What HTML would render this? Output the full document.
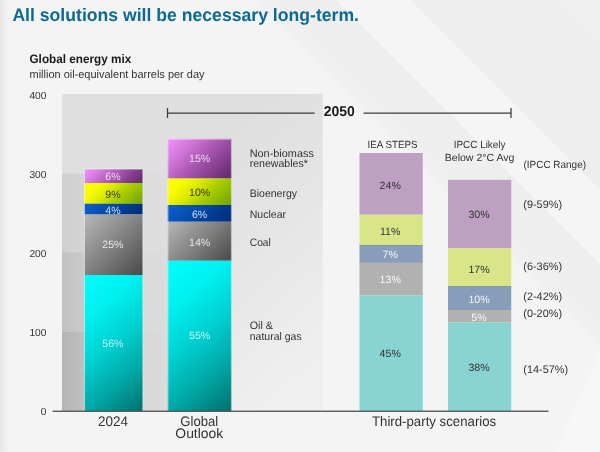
<!DOCTYPE html>
<html><head><meta charset="utf-8"><title>All solutions will be necessary long-term.</title>
<style>
html,body{margin:0;padding:0;background:#f4f4f4;}
body{width:600px;height:452px;overflow:hidden;}
svg{display:block;font-family:"Liberation Sans",sans-serif;text-rendering:geometricPrecision;}
</style></head><body>
<svg width="600" height="452" viewBox="0 0 600 452">
<defs>
<linearGradient id="bgL" x1="0" y1="0" x2="1" y2="0"><stop offset="0" stop-color="#e6e6e6"/><stop offset="1" stop-color="#f4f4f4"/></linearGradient>
<linearGradient id="plotR" x1="0" y1="0" x2="0.25" y2="1"><stop offset="0" stop-color="#dfdfdf"/><stop offset="0.12" stop-color="#dfdfdf"/><stop offset="0.5" stop-color="#e5e5e5"/><stop offset="1" stop-color="#efefef"/></linearGradient>
<linearGradient id="band" x1="0" y1="0" x2="1" y2="0"><stop offset="0.0" stop-color="#000" stop-opacity="0.068"/><stop offset="0.129" stop-color="#000" stop-opacity="0.05"/><stop offset="0.476" stop-color="#000" stop-opacity="0.012"/><stop offset="0.618" stop-color="#000" stop-opacity="0.006"/><stop offset="1.0" stop-color="#000" stop-opacity="0"/></linearGradient>
<linearGradient id="diag" gradientUnits="userSpaceOnUse" x1="240" y1="0" x2="420" y2="-180"><stop offset="0.0222" stop-color="#f4f4f4"/><stop offset="0.0611" stop-color="#f0f0f0"/><stop offset="0.1" stop-color="#efefef"/><stop offset="0.2653" stop-color="#eeeeee"/><stop offset="0.2681" stop-color="#f5f5f5"/><stop offset="0.4694" stop-color="#f5f5f5"/><stop offset="0.475" stop-color="#eeeeee"/><stop offset="0.875" stop-color="#eeeeee"/><stop offset="0.8806" stop-color="#f0f0f0"/><stop offset="1.0" stop-color="#f0f0f0"/></linearGradient>
</defs>
<rect width="600" height="452" fill="#f4f4f4"/>
<rect width="600" height="452" fill="url(#diag)"/>
<rect x="0" y="0" width="10" height="452" fill="url(#bgL)"/>
<polygon points="600,352 600,452 556,452" fill="#f7f7f7"/>

<rect x="62" y="94" width="260.5" height="317" fill="#dfdfdf"/>
<rect x="231" y="94" width="91.5" height="317" fill="url(#plotR)"/>
<rect x="62" y="173.5" width="170" height="237.5" fill="url(#band)"/>
<rect x="62" y="252.5" width="170" height="158.5" fill="url(#band)"/>
<rect x="62" y="332" width="170" height="79" fill="url(#band)"/>
<linearGradient id="g1" gradientUnits="userSpaceOnUse" x1="84.25" y1="169" x2="120.62" y2="205.38"><stop offset="0" stop-color="#f490ff"/><stop offset="0.25" stop-color="#d478dc"/><stop offset="0.5" stop-color="#ac58b4"/><stop offset="0.75" stop-color="#843e8c"/><stop offset="1" stop-color="#5e2868"/></linearGradient>
<rect x="84.25" y="169" width="58.75" height="14" fill="url(#g1)"/>
<linearGradient id="g2" gradientUnits="userSpaceOnUse" x1="84.25" y1="183" x2="124.0" y2="222.75"><stop offset="0" stop-color="#ffff00"/><stop offset="0.2" stop-color="#f8fc00"/><stop offset="0.4" stop-color="#dcea00"/><stop offset="0.6" stop-color="#acd000"/><stop offset="0.8" stop-color="#8aba00"/><stop offset="1" stop-color="#70a010"/></linearGradient>
<rect x="84.25" y="183" width="58.75" height="20.75" fill="url(#g2)"/>
<linearGradient id="g3" gradientUnits="userSpaceOnUse" x1="84.25" y1="203.75" x2="119.0" y2="238.5"><stop offset="0" stop-color="#0c62d0"/><stop offset="0.5" stop-color="#0446a2"/><stop offset="1" stop-color="#002a74"/></linearGradient>
<rect x="84.25" y="203.75" width="58.75" height="10.75" fill="url(#g3)"/>
<linearGradient id="g4" gradientUnits="userSpaceOnUse" x1="84.25" y1="214.5" x2="143.88" y2="274.12"><stop offset="0" stop-color="#b8b8b8"/><stop offset="0.5" stop-color="#828282"/><stop offset="1" stop-color="#484848"/></linearGradient>
<rect x="84.25" y="214.5" width="58.75" height="60.5" fill="url(#g4)"/>
<linearGradient id="g5" gradientUnits="userSpaceOnUse" x1="84.25" y1="275" x2="175.33" y2="384.59"><stop offset="0" stop-color="#00ffff"/><stop offset="0.25" stop-color="#00f0f0"/><stop offset="0.5" stop-color="#00d0d0"/><stop offset="0.75" stop-color="#00a6a4"/><stop offset="1" stop-color="#006e6c"/></linearGradient>
<rect x="84.25" y="275" width="58.75" height="136" fill="url(#g5)"/>
<linearGradient id="g6" gradientUnits="userSpaceOnUse" x1="167.5" y1="138.75" x2="219.5" y2="190.75"><stop offset="0" stop-color="#f490ff"/><stop offset="0.25" stop-color="#d478dc"/><stop offset="0.5" stop-color="#ac58b4"/><stop offset="0.75" stop-color="#843e8c"/><stop offset="1" stop-color="#5e2868"/></linearGradient>
<rect x="167.5" y="138.75" width="64.25" height="39.75" fill="url(#g6)"/>
<linearGradient id="g7" gradientUnits="userSpaceOnUse" x1="167.5" y1="178.5" x2="212.88" y2="223.88"><stop offset="0" stop-color="#ffff00"/><stop offset="0.2" stop-color="#f8fc00"/><stop offset="0.4" stop-color="#dcea00"/><stop offset="0.6" stop-color="#acd000"/><stop offset="0.8" stop-color="#8aba00"/><stop offset="1" stop-color="#70a010"/></linearGradient>
<rect x="167.5" y="178.5" width="64.25" height="26.5" fill="url(#g7)"/>
<linearGradient id="g8" gradientUnits="userSpaceOnUse" x1="167.5" y1="205" x2="208.0" y2="245.5"><stop offset="0" stop-color="#0c62d0"/><stop offset="0.5" stop-color="#0446a2"/><stop offset="1" stop-color="#002a74"/></linearGradient>
<rect x="167.5" y="205" width="64.25" height="16.75" fill="url(#g8)"/>
<linearGradient id="g9" gradientUnits="userSpaceOnUse" x1="167.5" y1="221.75" x2="219.12" y2="273.38"><stop offset="0" stop-color="#b8b8b8"/><stop offset="0.5" stop-color="#828282"/><stop offset="1" stop-color="#484848"/></linearGradient>
<rect x="167.5" y="221.75" width="64.25" height="39.0" fill="url(#g9)"/>
<linearGradient id="g10" gradientUnits="userSpaceOnUse" x1="167.5" y1="260.75" x2="267.86" y2="381.5"><stop offset="0" stop-color="#00ffff"/><stop offset="0.25" stop-color="#00f0f0"/><stop offset="0.5" stop-color="#00d0d0"/><stop offset="0.75" stop-color="#00a6a4"/><stop offset="1" stop-color="#006e6c"/></linearGradient>
<rect x="167.5" y="260.75" width="64.25" height="150.25" fill="url(#g10)"/>
<rect x="359.5" y="153" width="63.25" height="61.7" fill="#bda0c2"/>
<rect x="359.5" y="214.7" width="63.25" height="30.6" fill="#d8e687"/>
<rect x="359.5" y="245.3" width="63.25" height="17.6" fill="#889dba"/>
<rect x="359.5" y="262.9" width="63.25" height="32.5" fill="#b1b1b1"/>
<rect x="359.5" y="295.4" width="63.25" height="115.6" fill="#88d4d3"/>
<rect x="448" y="179.8" width="63.25" height="68.4" fill="#bda0c2"/>
<rect x="448" y="248.2" width="63.25" height="38.3" fill="#d8e687"/>
<rect x="448" y="286.5" width="63.25" height="23.5" fill="#889dba"/>
<rect x="448" y="310" width="63.25" height="12.5" fill="#b1b1b1"/>
<rect x="448" y="322.5" width="63.25" height="88.5" fill="#88d4d3"/>
<rect x="359.5" y="245.1" width="63.25" height="0.7" fill="#6a86ad"/><rect x="448" y="286.3" width="63.25" height="0.7" fill="#6a86ad"/>
<path d="M84.45 411V169.05H142.8V411M167.9 411V139.15H231.35V411" fill="none" stroke="#f4f4f4" stroke-opacity="0.9" stroke-width="0.7"/>
<rect x="52.5" y="410.6" width="270" height="1.3" fill="#4e4e4e"/>
<rect x="322.5" y="410.6" width="226" height="1.3" fill="#4e4e4e"/>
<g stroke="#3c3c3c" stroke-width="1.25" fill="none"><path d="M167.5 108V118M167.5 113H314.5M363.5 113H511M511 108V118"/></g>
<text x="12.4" y="21" font-size="18" text-anchor="start" fill="#0c6a92" font-weight="bold" textLength="346.6" lengthAdjust="spacingAndGlyphs">All solutions will be necessary long-term.</text>
<text x="29.5" y="63" font-size="12.3" text-anchor="start" fill="#1a1a1a" font-weight="bold" textLength="101.7" lengthAdjust="spacingAndGlyphs">Global energy mix</text>
<text x="29.5" y="78" font-size="11.3" text-anchor="start" fill="#333" textLength="175" lengthAdjust="spacingAndGlyphs">million oil-equivalent barrels per day</text>
<text x="46.4" y="99" font-size="10.2" text-anchor="end" fill="#333">400</text>
<text x="46.4" y="178" font-size="10.2" text-anchor="end" fill="#333">300</text>
<text x="46.4" y="257" font-size="10.2" text-anchor="end" fill="#333">200</text>
<text x="46.4" y="336" font-size="10.2" text-anchor="end" fill="#333">100</text>
<text x="46.4" y="415" font-size="10.2" text-anchor="end" fill="#333">0</text>
<text x="323.8" y="116" font-size="14.2" text-anchor="start" fill="#1a1a1a" font-weight="bold" textLength="31" lengthAdjust="spacingAndGlyphs">2050</text>
<text x="113" y="426" font-size="13.8" text-anchor="middle" fill="#333" textLength="30" lengthAdjust="spacingAndGlyphs">2024</text>
<text x="199.3" y="426" font-size="13.8" text-anchor="middle" fill="#333" textLength="38" lengthAdjust="spacingAndGlyphs">Global</text>
<text x="199.3" y="438" font-size="13.8" text-anchor="middle" fill="#333" textLength="48" lengthAdjust="spacingAndGlyphs">Outlook</text>
<text x="434.1" y="426" font-size="13.8" text-anchor="middle" fill="#333" textLength="124.25" lengthAdjust="spacingAndGlyphs">Third-party scenarios</text>
<text x="392.5" y="147.5" font-size="10.4" text-anchor="middle" fill="#333" textLength="50" lengthAdjust="spacingAndGlyphs">IEA STEPS</text>
<text x="479.6" y="147.5" font-size="10.4" text-anchor="middle" fill="#333" textLength="51.75" lengthAdjust="spacingAndGlyphs">IPCC Likely</text>
<text x="479.6" y="161.3" font-size="10.4" text-anchor="middle" fill="#333" textLength="69.75" lengthAdjust="spacingAndGlyphs">Below 2°C Avg</text>
<text x="523.5" y="168" font-size="10.4" text-anchor="start" fill="#333" textLength="62.5" lengthAdjust="spacingAndGlyphs">(IPCC Range)</text>
<text x="523.3" y="208" font-size="10.9" text-anchor="start" fill="#333">(9-59%)</text>
<text x="523.3" y="270" font-size="10.9" text-anchor="start" fill="#333">(6-36%)</text>
<text x="523.3" y="300" font-size="10.9" text-anchor="start" fill="#333">(2-42%)</text>
<text x="523.3" y="317" font-size="10.9" text-anchor="start" fill="#333">(0-20%)</text>
<text x="523.3" y="373" font-size="10.9" text-anchor="start" fill="#333">(14-57%)</text>
<text x="249.7" y="156.8" font-size="10.9" text-anchor="start" fill="#333" textLength="64.2" lengthAdjust="spacingAndGlyphs">Non-biomass</text>
<text x="249.7" y="167.10000000000002" font-size="10.9" text-anchor="start" fill="#333" textLength="58.2" lengthAdjust="spacingAndGlyphs">renewables*</text>
<text x="249.7" y="196.8" font-size="10.9" text-anchor="start" fill="#333" textLength="47.4" lengthAdjust="spacingAndGlyphs">Bioenergy</text>
<text x="249.7" y="217.60000000000002" font-size="10.9" text-anchor="start" fill="#333" textLength="36.4" lengthAdjust="spacingAndGlyphs">Nuclear</text>
<text x="249.7" y="246.3" font-size="10.9" text-anchor="start" fill="#333" textLength="21.2" lengthAdjust="spacingAndGlyphs">Coal</text>
<text x="249.7" y="328.8" font-size="10.9" text-anchor="start" fill="#333" textLength="23.2" lengthAdjust="spacingAndGlyphs">Oil &amp;</text>
<text x="249.7" y="340.1" font-size="10.9" text-anchor="start" fill="#333" textLength="52" lengthAdjust="spacingAndGlyphs">natural gas</text>
<text x="112.9" y="180.4" font-size="10.6" text-anchor="middle" fill="#ffffff" fill-opacity="0.78">6%</text>
<text x="112.9" y="197.70000000000002" font-size="10.6" text-anchor="middle" fill="#3a3a10">9%</text>
<text x="112.9" y="213.5" font-size="10.6" text-anchor="middle" fill="#ffffff" fill-opacity="0.8">4%</text>
<text x="112.9" y="248.4" font-size="10.6" text-anchor="middle" fill="#ffffff" fill-opacity="0.8">25%</text>
<text x="112.9" y="346.9" font-size="10.6" text-anchor="middle" fill="#ffffff" fill-opacity="0.75">56%</text>
<text x="199.6" y="162.4" font-size="10.6" text-anchor="middle" fill="#ffffff" fill-opacity="0.75">15%</text>
<text x="199.6" y="195.9" font-size="10.6" text-anchor="middle" fill="#3a3a10">10%</text>
<text x="199.6" y="217.70000000000002" font-size="10.6" text-anchor="middle" fill="#ffffff" fill-opacity="0.8">6%</text>
<text x="199.6" y="246.4" font-size="10.6" text-anchor="middle" fill="#ffffff" fill-opacity="0.8">14%</text>
<text x="199.6" y="338.9" font-size="10.6" text-anchor="middle" fill="#ffffff" fill-opacity="0.75">55%</text>
<text x="390.2" y="189.3" font-size="10.6" text-anchor="middle" fill="#333">24%</text>
<text x="390.2" y="234.70000000000002" font-size="10.6" text-anchor="middle" fill="#333">11%</text>
<text x="390.2" y="257.9" font-size="10.6" text-anchor="middle" fill="#ffffff" fill-opacity="0.9">7%</text>
<text x="390.2" y="282.5" font-size="10.6" text-anchor="middle" fill="#ffffff" fill-opacity="0.9">13%</text>
<text x="390.2" y="356.9" font-size="10.6" text-anchor="middle" fill="#333">45%</text>
<text x="479" y="217.70000000000002" font-size="10.6" text-anchor="middle" fill="#333">30%</text>
<text x="479" y="273.2" font-size="10.6" text-anchor="middle" fill="#333">17%</text>
<text x="479" y="303.4" font-size="10.6" text-anchor="middle" fill="#ffffff" fill-opacity="0.9">10%</text>
<text x="479" y="320.7" font-size="10.6" text-anchor="middle" fill="#ffffff" fill-opacity="0.9">5%</text>
<text x="479" y="370.9" font-size="10.6" text-anchor="middle" fill="#333">38%</text>
</svg>
</body></html>
